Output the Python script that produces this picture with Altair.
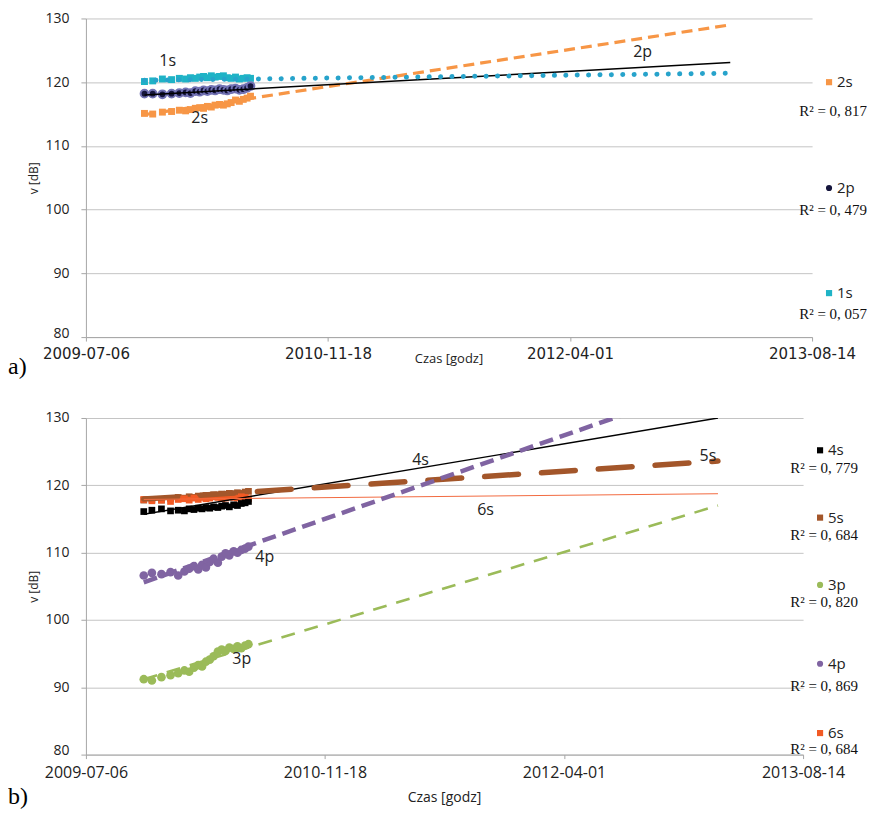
import altair as alt
import pandas as pd

# ---------------- data ----------------
tick_dates = ["2009-07-06", "2010-11-18", "2012-04-01", "2013-08-14"]

dates = ["2009-11-04", "2009-11-21", "2009-12-11", "2009-12-30", "2010-01-15", "2010-01-28",
         "2010-02-07", "2010-02-17", "2010-02-26", "2010-03-06", "2010-03-14", "2010-03-22",
         "2010-03-30", "2010-04-08", "2010-04-16", "2010-04-24", "2010-05-02", "2010-05-11",
         "2010-05-19", "2010-05-27", "2010-06-04", "2010-06-11"]

# panel a)
a_1s = [120.1, 120.2, 120.5, 120.4, 120.6, 120.5, 120.7, 120.6, 120.8, 120.9, 120.7, 121.0,
        120.8, 120.9, 121.0, 120.7, 120.6, 120.8, 120.5, 120.6, 120.7, 120.6]
a_2p = [118.2, 118.2, 118.1, 118.2, 118.3, 118.4, 118.3, 118.6, 118.5, 118.7, 118.6, 118.8,
        118.7, 118.9, 118.8, 118.7, 118.9, 119.0, 118.8, 118.9, 119.1, 119.4]
a_2s = [115.1, 115.0, 115.3, 115.4, 115.6, 115.5, 115.7, 115.9, 116.0, 115.9, 116.2, 116.1,
        116.4, 116.5, 116.4, 116.6, 116.8, 117.2, 117.0, 117.3, 117.5, 117.8]

a_trend_dates = ["2009-11-04", "2013-02-26"]
a_trend_series = ["2s", "2p", "1s"]
a_trend_start = [114.9, 118.0, 120.3]
a_trend_end = [129.0, 123.1, 121.4]

a_label_text = ["1s", "2s", "2p"]
a_label_dates = ["2009-12-22", "2010-02-26", "2012-08-29"]
a_label_values = [123.4, 114.3, 124.7]

a_legend_series = ["2s", "2p", "1s"]
a_legend_r2 = ["R² = 0, 817", "R² = 0, 479", "R² = 0, 057"]

# panel b)
b_4s = [116.1, 116.3, 116.5, 116.2, 116.3, 116.2, 116.5, 116.4, 116.6, 116.5, 116.7, 116.6,
        116.8, 116.7, 116.9, 117.0, 116.8, 117.1, 117.0, 117.3, 117.4, 117.6]
b_5s = [117.8, 117.9, 117.8, 118.0, 118.2, 118.1, 118.3, 118.2, 118.4, 118.3, 118.5, 118.4,
        118.6, 118.5, 118.7, 118.6, 118.8, 118.7, 118.9, 118.8, 119.0, 119.1]
b_6s = [117.9, 117.7, 117.8, 117.6, 117.9, 118.0, 117.8, 118.1, 117.9, 118.2, 118.0, 118.1,
        118.3, 118.2, 118.0, 118.1, 118.3, 118.2, 118.1, 118.3, 118.2, 118.0]
b_3p = [91.2, 91.0, 91.5, 91.8, 92.1, 92.5, 92.3, 92.9, 93.3, 93.1, 93.8, 94.1,
        94.6, 95.3, 95.6, 95.4, 95.9, 95.7, 96.1, 95.8, 96.2, 96.4]
b_4p = [106.6, 107.0, 106.8, 107.1, 106.6, 107.2, 107.6, 108.0, 107.5, 108.2, 107.8, 108.6,
        109.1, 108.5, 109.4, 109.9, 109.6, 110.2, 110.0, 110.4, 110.6, 110.9]

b_trend_dates = ["2009-11-04", "2013-02-17"]
b_trend_series = ["4s", "5s", "6s", "4p", "3p"]
b_trend_start = [115.7, 117.95, 117.9, 105.6, 91.2]
b_trend_end = [130.0, 123.6, 118.75, 135.4, 117.0]

b_label_text = ["4s", "5s", "6s", "4p", "3p"]
b_label_dates = ["2011-06-06", "2013-01-27", "2011-10-20", "2010-07-15", "2010-05-28"]
b_label_values = [123.8, 124.4, 116.3, 109.4, 94.2]

b_legend_series = ["4s", "5s", "3p", "4p", "6s"]
b_legend_r2 = ["R² = 0, 779", "R² = 0, 684", "R² = 0, 820", "R² = 0, 869", "R² = 0, 684"]

# ---------------- layout / style ----------------
a_legend_rows = [120.0, 103.4, 86.9]
a_legend_r2_rows = [115.4, 99.9, 83.6]
b_legend_rows = [125.2, 115.2, 105.2, 93.5, 83.2]
b_legend_r2_rows = [122.6, 112.6, 102.7, 90.2, 80.9]

STYLE = {
    "1s": dict(color="#1FB3C6", shape="square", size=48, line="#27A3CB", width=5, dash=[0.1, 11.3], cap="round"),
    "2p": dict(color="#15153C", shape="circle", size=60, line="#000000", width=1.5, dash=None, cap="butt"),
    "2s": dict(color="#F79646", shape="square", size=48, line="#F79646", width=3.2, dash=[11, 6], cap="butt"),
    "4s": dict(color="#000000", shape="square", size=45, line="#000000", width=1.4, dash=None, cap="butt"),
    "5s": dict(color="#A3562A", shape="square", size=45, line="#A3562A", width=5.5, dash=[34, 23], cap="round"),
    "6s": dict(color="#F25A24", shape="square", size=45, line="#F26A40", width=1.0, dash=None, cap="butt"),
    "3p": dict(color="#9BBB59", shape="circle", size=75, line="#9BBB59", width=2.6, dash=[14, 10], cap="butt"),
    "4p": dict(color="#8064A2", shape="circle", size=75, line="#8064A2", width=4.5, dash=[14, 7], cap="butt"),
}


def dt(s):
    y, m, d = (int(p) for p in s.split("-"))
    return alt.DateTime(year=y, month=m, date=d, utc=True)


X_SCALE = alt.Scale(type="utc", domain=[dt(tick_dates[0]), dt(tick_dates[-1])])
Y_SCALE = alt.Scale(domain=[80, 130], nice=False, zero=False)
TEXT_COLOR = "#222222"


def x_axis(font, size, pad):
    return alt.Axis(values=[dt(s) for s in tick_dates],
                    labelExpr="utcFormat(datum.value, '%Y-%m-%d')",
                    title=None, grid=False, labelFlush=False, labelOverlap=False,
                    domainColor="#A6A6A6", tickColor="#A6A6A6", tickSize=4,
                    labelPadding=pad, labelFont=font, labelFontSize=size, labelColor=TEXT_COLOR)


def y_axis():
    return alt.Axis(values=[80, 90, 100, 110, 120, 130], title="v [dB]", grid=True,
                    gridColor="#C4C4C4", domainColor="#A6A6A6", tickColor="#A6A6A6", tickSize=5,
                    labelPadding=12, labelFont="Open Sans", labelFontSize=14, labelColor=TEXT_COLOR,
                    labelOffset={"condition": {"test": "datum.value == 80", "value": -4}, "value": 0},
                    titleFont="Open Sans", titleFontSize=12, titleFontWeight="normal",
                    titleColor=TEXT_COLOR, titlePadding=4)


def panel(series_data, trend_dates, trend_series, trend_start, trend_end,
          label_text, label_dates, label_values,
          legend_series, legend_r2, legend_rows, legend_r2_rows,
          width, height, xax, tag, tag_dy, title_dy, title_size):
    X = lambda f: alt.X(f"{f}:T", scale=X_SCALE, axis=xax)
    Y = lambda f: alt.Y(f"{f}:Q", scale=Y_SCALE, axis=y_axis())
    layers = []
    # data points
    for name, vals in series_data:
        st = STYLE[name]
        df = pd.DataFrame({"date": dates, "v": vals})
        if name == "2p":
            mk = alt.Chart(df).mark_point(shape="circle", filled=True, size=st["size"], fill=st["color"],
                                          stroke="#7272B4", strokeWidth=2, opacity=1)
        else:
            mk = alt.Chart(df).mark_point(shape=st["shape"], filled=True, size=st["size"],
                                          color=st["color"], opacity=1)
        layers.append(mk.encode(x=X("date"), y=Y("v")))
    # trend lines
    for name, s, e in zip(trend_series, trend_start, trend_end):
        st = STYLE[name]
        df = pd.DataFrame({"date": trend_dates, "v": [s, e]})
        kw = dict(color=st["line"], strokeWidth=st["width"], strokeCap=st["cap"], clip=True)
        if st["dash"]:
            kw["strokeDash"] = st["dash"]
        layers.append(alt.Chart(df).mark_line(**kw).encode(x=X("date"), y=Y("v")))
    # series labels
    ldf = pd.DataFrame({"date": label_dates, "v": label_values, "t": label_text})
    layers.append(alt.Chart(ldf).mark_text(font="Open Sans", fontSize=16, color=TEXT_COLOR)
                  .encode(x=X("date"), y=Y("v"), text="t:N"))
    # legend
    gdf = pd.DataFrame({
        "s": legend_series, "r2": legend_r2, "row": legend_rows, "r2row": legend_r2_rows,
        "col": [STYLE[n]["color"] for n in legend_series],
        "shp": [STYLE[n]["shape"] for n in legend_series],
    })
    layers.append(alt.Chart(gdf).mark_point(filled=True, size=38, opacity=1).encode(
        x=alt.value(width + 17), y=Y("row"),
        color=alt.Color("col:N", scale=None), shape=alt.Shape("shp:N", scale=None)))
    layers.append(alt.Chart(gdf).mark_text(align="left", font="Open Sans", fontSize=15, color=TEXT_COLOR)
                  .encode(x=alt.value(width + 25), y=Y("row"), text="s:N"))
    layers.append(alt.Chart(gdf).mark_text(align="right", font="Liberation Serif", fontSize=15, color="#111111")
                  .encode(x=alt.value(width + 55), y=Y("r2row"), text="r2:N"))
    # axis title and panel tag
    tdf = pd.DataFrame({"t": ["Czas [godz]"]})
    layers.append(alt.Chart(tdf).mark_text(font="Open Sans", fontSize=title_size, color=TEXT_COLOR)
                  .encode(x=alt.value(width / 2), y=alt.value(height + title_dy), text="t:N"))
    gtag = pd.DataFrame({"t": [tag]})
    layers.append(alt.Chart(gtag).mark_text(align="left", font="Liberation Serif", fontSize=24, color="#000000")
                  .encode(x=alt.value(-78), y=alt.value(height + tag_dy), text="t:N"))
    return alt.layer(*layers).properties(width=width, height=height)


panel_a = panel(
    [("1s", a_1s), ("2p", a_2p), ("2s", a_2s)],
    a_trend_dates, a_trend_series, a_trend_start, a_trend_end,
    a_label_text, a_label_dates, a_label_values,
    a_legend_series, a_legend_r2, a_legend_rows, a_legend_r2_rows,
    727, 319, x_axis("DejaVu Sans", 15, 5), "a)", 30, 22, 13)

panel_b = panel(
    [("5s", b_5s), ("6s", b_6s), ("4s", b_4s), ("3p", b_3p), ("4p", b_4p)],
    b_trend_dates, b_trend_series, b_trend_start, b_trend_end,
    b_label_text, b_label_dates, b_label_values,
    b_legend_series, b_legend_r2, b_legend_rows, b_legend_r2_rows,
    718, 337, x_axis("Open Sans", 16, 6), "b)", 42, 43, 14)

chart = alt.vconcat(panel_a, panel_b, spacing=32).properties(
    padding={"left": 0, "top": 3, "right": 0, "bottom": 0},
    background="white",
).configure_view(stroke=None)

chart.save("out.html", embed_options={"renderer": "svg", "actions": False})
